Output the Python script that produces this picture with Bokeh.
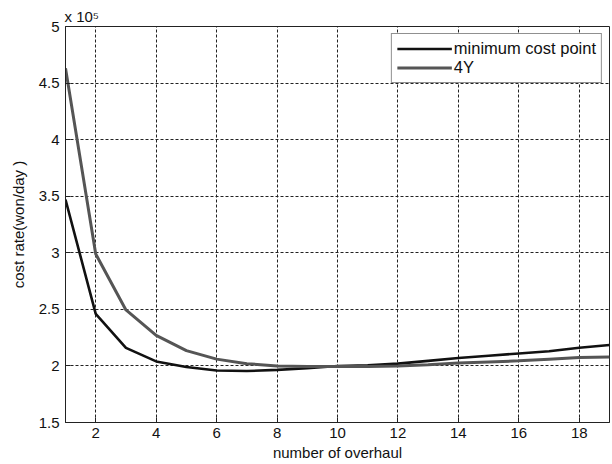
from bokeh.plotting import figure
from bokeh.models import (Range1d, FixedTicker, CustomJSTickFormatter, Legend,
                          LegendItem)
from bokeh.embed import file_html
from bokeh.resources import INLINE

# ---- data (cost rate in won/day) ----
overhauls = list(range(1, 20))
min_cost_point = [347000, 246000, 216000, 204000, 199000, 196000, 195500, 196500,
                  198000, 200000, 200500, 202000, 204500, 207000, 209000, 211000,
                  213000, 216000, 218500]
four_y = [463000, 299000, 249500, 227000, 213500, 206000, 202000, 200000,
          199500, 199500, 199500, 200000, 201000, 202500, 203500, 204500,
          206000, 207500, 208000]
x_ticks = [2, 4, 6, 8, 10, 12, 14, 16, 18]
y_ticks = [1.5, 2, 2.5, 3, 3.5, 4, 4.5, 5]
scale = 1e5

FONT = "Liberation Sans"

p = figure(width=612, height=464, output_backend="svg", toolbar_location=None,
           x_range=Range1d(1, 19), y_range=Range1d(1.5, 5),
           min_border_left=65, min_border_right=3, min_border_top=26,
           min_border_bottom=42)
p.background_fill_color = "white"
p.border_fill_color = "white"
p.outline_line_color = "#222222"
p.outline_line_width = 1

y1 = [v / scale for v in min_cost_point]
y2 = [v / scale for v in four_y]

r1 = p.line(overhauls, y1, line_color="#111111", line_width=2.6)
r2 = p.line(overhauls, y2, line_color="#555555", line_width=3)

# exponent as title
p.title.text = "x 10\u2075"
p.title.align = "left"
p.title.offset = -1
p.title.standoff = 4
p.title.text_font = FONT
p.title.text_font_style = "normal"
p.title.text_font_size = "15px"
p.title.text_color = "#111111"

# axes
for ax in (p.xaxis[0], p.yaxis[0]):
    ax.axis_line_color = "#222222"
    ax.major_tick_line_color = "#222222"
    ax.major_tick_in = 5
    ax.major_tick_out = 0
    ax.minor_tick_line_color = None
    ax.major_label_text_font = FONT
    ax.major_label_text_font_size = "15px"
    ax.major_label_text_color = "#111111"
    ax.axis_label_text_font = FONT
    ax.axis_label_text_font_style = "normal"
    ax.axis_label_text_font_size = "15px"
    ax.axis_label_text_color = "#111111"

p.xaxis.ticker = FixedTicker(ticks=x_ticks)
p.yaxis.ticker = FixedTicker(ticks=y_ticks)
p.yaxis.formatter = CustomJSTickFormatter(code="return tick.toString();")
p.xaxis.major_label_standoff = 5
p.yaxis.major_label_standoff = 6
p.xaxis.axis_label = "number of overhaul"
p.xaxis.axis_label_standoff = 3
p.yaxis.axis_label = "cost rate(won/day )"
p.yaxis.axis_label_standoff = 9

# grid
p.xgrid.ticker = FixedTicker(ticks=x_ticks)
p.ygrid.ticker = FixedTicker(ticks=y_ticks)
for g in (p.xgrid[0], p.ygrid[0]):
    g.grid_line_color = "#222222"
    g.grid_line_dash = "3 2"
    g.grid_line_width = 1

legend = Legend(items=[LegendItem(label="minimum cost point", renderers=[r1]),
                       LegendItem(label="4Y", renderers=[r2])],
                location="top_right")
legend.margin = 7
legend.padding = 5
legend.spacing = 0
legend.glyph_width = 55
legend.glyph_height = 19
legend.label_height = 19
legend.label_standoff = 2
legend.label_text_font = FONT
legend.label_text_font_size = "16.5px"
legend.label_text_color = "#111111"
legend.border_line_color = "#222222"
legend.border_line_width = 1
legend.background_fill_color = "white"
legend.background_fill_alpha = 1
p.add_layout(legend)

open("out.html", "w").write(file_html(p, INLINE))
